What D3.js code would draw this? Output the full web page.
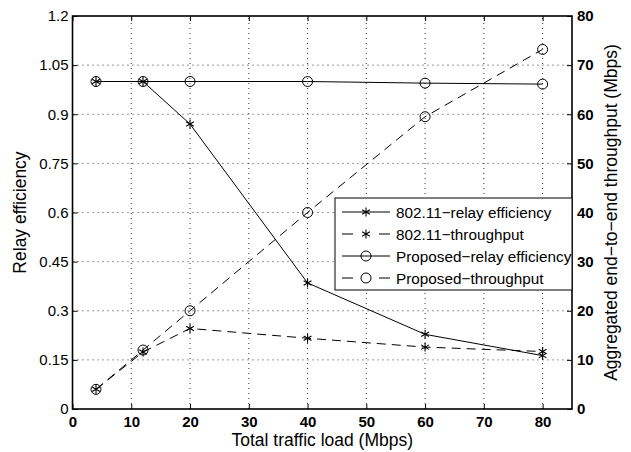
<!DOCTYPE html>
<html>
<head>
<meta charset="utf-8">
<script src="https://cdn.jsdelivr.net/npm/d3@7/dist/d3.min.js"></script>
<style>
  html, body { margin: 0; padding: 0; background: #fff; }
  svg { display: block; font-family: "Liberation Sans", Arial, Helvetica, sans-serif; }
</style>
</head>
<body>
<svg id="chart" width="631" height="452"></svg>
<script>
// Offered load (Mbps)
const loads = [4, 12, 20, 40, 60, 80];
// Relay efficiency (left axis)
const relay80211 = [1.0, 1.0, 0.87, 0.385, 0.228, 0.163];
const relayProposed = [1.0, 1.0, 1.0, 1.0, 0.995, 0.992];
// Aggregated end-to-end throughput in Mbps (right axis)
const thru80211 = [4, 11.6, 16.4, 14.4, 12.6, 11.7];
const thruProposed = [4, 12, 20, 40, 59.5, 73.2];

const xTicks = [0, 10, 20, 30, 40, 50, 60, 70, 80];
const yLeftTicks = [0, 0.15, 0.3, 0.45, 0.6, 0.75, 0.9, 1.05, 1.2];
const yRightTicks = [0, 10, 20, 30, 40, 50, 60, 70, 80];

const legendLabels = [
  "802.11\u2212relay efficiency",
  "802.11\u2212throughput",
  "Proposed\u2212relay efficiency",
  "Proposed\u2212throughput"
];

const svg = d3.select("#chart");
const L = 72.5, R = 572, T = 16, B = 409;

const x = d3.scaleLinear().domain([0, 85]).range([L, R]);
const yL = d3.scaleLinear().domain([0, 1.2]).range([B, T]);
const yR = d3.scaleLinear().domain([0, 80]).range([B, T]);

// dotted grid
const grid = svg.append("g").attr("stroke", "#333").attr("stroke-width", 1)
  .attr("stroke-dasharray", "1,4");
xTicks.slice(1).forEach(t => {
  grid.append("line").attr("x1", x(t)).attr("x2", x(t)).attr("y1", B).attr("y2", T);
});
yLeftTicks.slice(1, -1).forEach(t => {
  grid.append("line").attr("x1", L).attr("x2", R).attr("y1", yL(t)).attr("y2", yL(t));
});

// axes with inward ticks
const tickLen = 5;
const fmtL = d => d === 0 ? "0" : String(+d.toFixed(2));
const axL = svg.append("g").attr("transform", `translate(${L},0)`)
  .call(d3.axisLeft(yL).tickValues(yLeftTicks).tickSize(-tickLen).tickPadding(4).tickFormat(fmtL));
const axR = svg.append("g").attr("transform", `translate(${R},0)`)
  .call(d3.axisRight(yR).tickValues(yRightTicks).tickSize(-tickLen).tickPadding(5));
const axB = svg.append("g").attr("transform", `translate(0,${B})`)
  .call(d3.axisBottom(x).tickValues(xTicks).tickSize(-tickLen).tickPadding(7));
const axT = svg.append("g").attr("transform", `translate(0,${T})`)
  .call(d3.axisTop(x).tickValues(xTicks).tickSize(-tickLen).tickFormat(""));

[axL, axR, axB, axT].forEach(a => {
  a.select(".domain").remove();
  a.selectAll(".tick line").attr("stroke", "#000").attr("stroke-width", 1);
  a.selectAll("text").attr("fill", "#000").attr("font-size", 15);
});
axB.selectAll("text").attr("font-weight", "bold");
axR.selectAll("text").attr("font-weight", "bold");

// box
svg.append("rect").attr("x", L).attr("y", T).attr("width", R - L).attr("height", B - T)
  .attr("fill", "none").attr("stroke", "#000").attr("stroke-width", 1.6);

// axis titles
svg.append("text").attr("x", (L + R) / 2).attr("y", 446).attr("text-anchor", "middle")
  .attr("font-size", 17.5).text("Total traffic load (Mbps)");
svg.append("text").attr("transform", `translate(26,${(T + B) / 2}) rotate(-90)`)
  .attr("text-anchor", "middle").attr("font-size", 17.5).text("Relay efficiency");
svg.append("text").attr("transform", `translate(617,${(T + B) / 2}) rotate(-90)`)
  .attr("text-anchor", "middle").attr("font-size", 17.5)
  .text("Aggregated end\u2212to\u2212end throughput (Mbps)");

// marker drawers
function star(g, cx, cy, r) {
  const s = g.append("g").attr("stroke", "#000").attr("stroke-width", 1.1);
  s.append("line").attr("x1", cx).attr("x2", cx).attr("y1", cy - r).attr("y2", cy + r);
  const a = r * Math.cos(Math.PI / 6), b = r * Math.sin(Math.PI / 6);
  s.append("line").attr("x1", cx - a).attr("x2", cx + a).attr("y1", cy - b).attr("y2", cy + b);
  s.append("line").attr("x1", cx - a).attr("x2", cx + a).attr("y1", cy + b).attr("y2", cy - b);
}
function circle(g, cx, cy, r) {
  g.append("circle").attr("cx", cx).attr("cy", cy).attr("r", r)
    .attr("fill", "none").attr("stroke", "#000").attr("stroke-width", 1);
}

const series = [
  { vals: relay80211, y: yL, dash: null, marker: "star" },
  { vals: thru80211, y: yR, dash: "9,6", marker: "star" },
  { vals: relayProposed, y: yL, dash: null, marker: "circle" },
  { vals: thruProposed, y: yR, dash: "9,6", marker: "circle" }
];

const plot = svg.append("g");
series.forEach(s => {
  const line = d3.line().x((d, i) => x(loads[i])).y(d => s.y(d));
  plot.append("path").attr("d", line(s.vals)).attr("fill", "none")
    .attr("stroke", "#000").attr("stroke-width", 1)
    .attr("stroke-dasharray", s.dash);
  s.vals.forEach((v, i) => {
    if (s.marker === "star") star(plot, x(loads[i]), s.y(v), 4.5);
    else circle(plot, x(loads[i]), s.y(v), 5);
  });
});

// legend
const lg = svg.append("g");
const lx = 335, ly = 198, lw = 237, lh = 92;
lg.append("rect").attr("x", lx).attr("y", ly).attr("width", lw).attr("height", lh)
  .attr("fill", "#fff").attr("stroke", "#000").attr("stroke-width", 1);
legendLabels.forEach((lab, i) => {
  const cy = 212 + i * 22;
  const s = series[i];
  lg.append("line").attr("x1", 342).attr("x2", 390).attr("y1", cy).attr("y2", cy)
    .attr("stroke", "#000").attr("stroke-width", 1)
    .attr("stroke-dasharray", s.dash ? "11,26" : null);
  if (s.marker === "star") star(lg, 366, cy, 4.5); else circle(lg, 366, cy, 5);
  lg.append("text").attr("x", 396).attr("y", cy + 5.5).attr("font-size", 15.3).text(lab);
});
</script>
</body>
</html>
